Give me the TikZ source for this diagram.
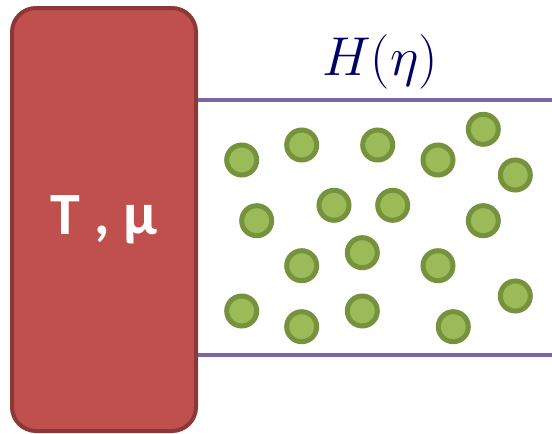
\documentclass[tikz,border=0pt]{standalone}
\usepackage{fontspec}
\newfontfamily\labelfont{Carlito}
\usetikzlibrary{positioning}
\definecolor{bathred}{HTML}{C0504D}
\definecolor{bathedge}{HTML}{8C3836}
\definecolor{wallpurple}{HTML}{8064A2}
\definecolor{partgreen}{HTML}{9BBB59}
\definecolor{partedge}{HTML}{76923C}
\definecolor{labelnavy}{HTML}{000066}
\begin{document}
\begin{tikzpicture}[
  x=1pt, y=-1pt,
  bath/.style={draw=bathedge, line width=4pt, fill=bathred, rounded corners=24pt,
    minimum width=184pt, minimum height=423pt, inner sep=0pt,
    text=white, font=\labelfont\bfseries\fontsize{60}{60}\selectfont},
  wall/.style={draw=wallpurple, line width=4pt},
  particle/.style={circle, draw=partedge, line width=5pt, fill=partgreen,
    minimum size=30pt, inner sep=0pt},
  hlabel/.style={text=labelnavy, font=\fontsize{25}{25}\selectfont}
]
\useasboundingbox (0,0) rectangle (552,434);
\node[bath] (bath) at (104,219.5) {T , μ};
\coordinate (topend) at (552,100);
\coordinate (botend) at (552,355);
\draw[wall] (bath.east |- topend) -- (topend);
\draw[wall] (bath.east |- botend) -- (botend);
\node[hlabel] (ham) at (380,62) {\scalebox{2.2}{$H(\eta)$}};
% particles in the box
\foreach \px/\py [count=\i] in {241.7/160, 301.7/145, 377.7/145, 438/160, 483.3/129.3,
    515.3/175, 256.7/220.7, 334/205.3, 392.7/205.3, 483.3/220.7, 301.7/265.7,
    362.3/252.7, 438/265.7, 515.3/296, 241.7/311, 301.7/326.7, 362.3/311, 453.3/326.7}
  \node[particle] (p\i) at (\px,\py) {};
\end{tikzpicture}
\end{document}
